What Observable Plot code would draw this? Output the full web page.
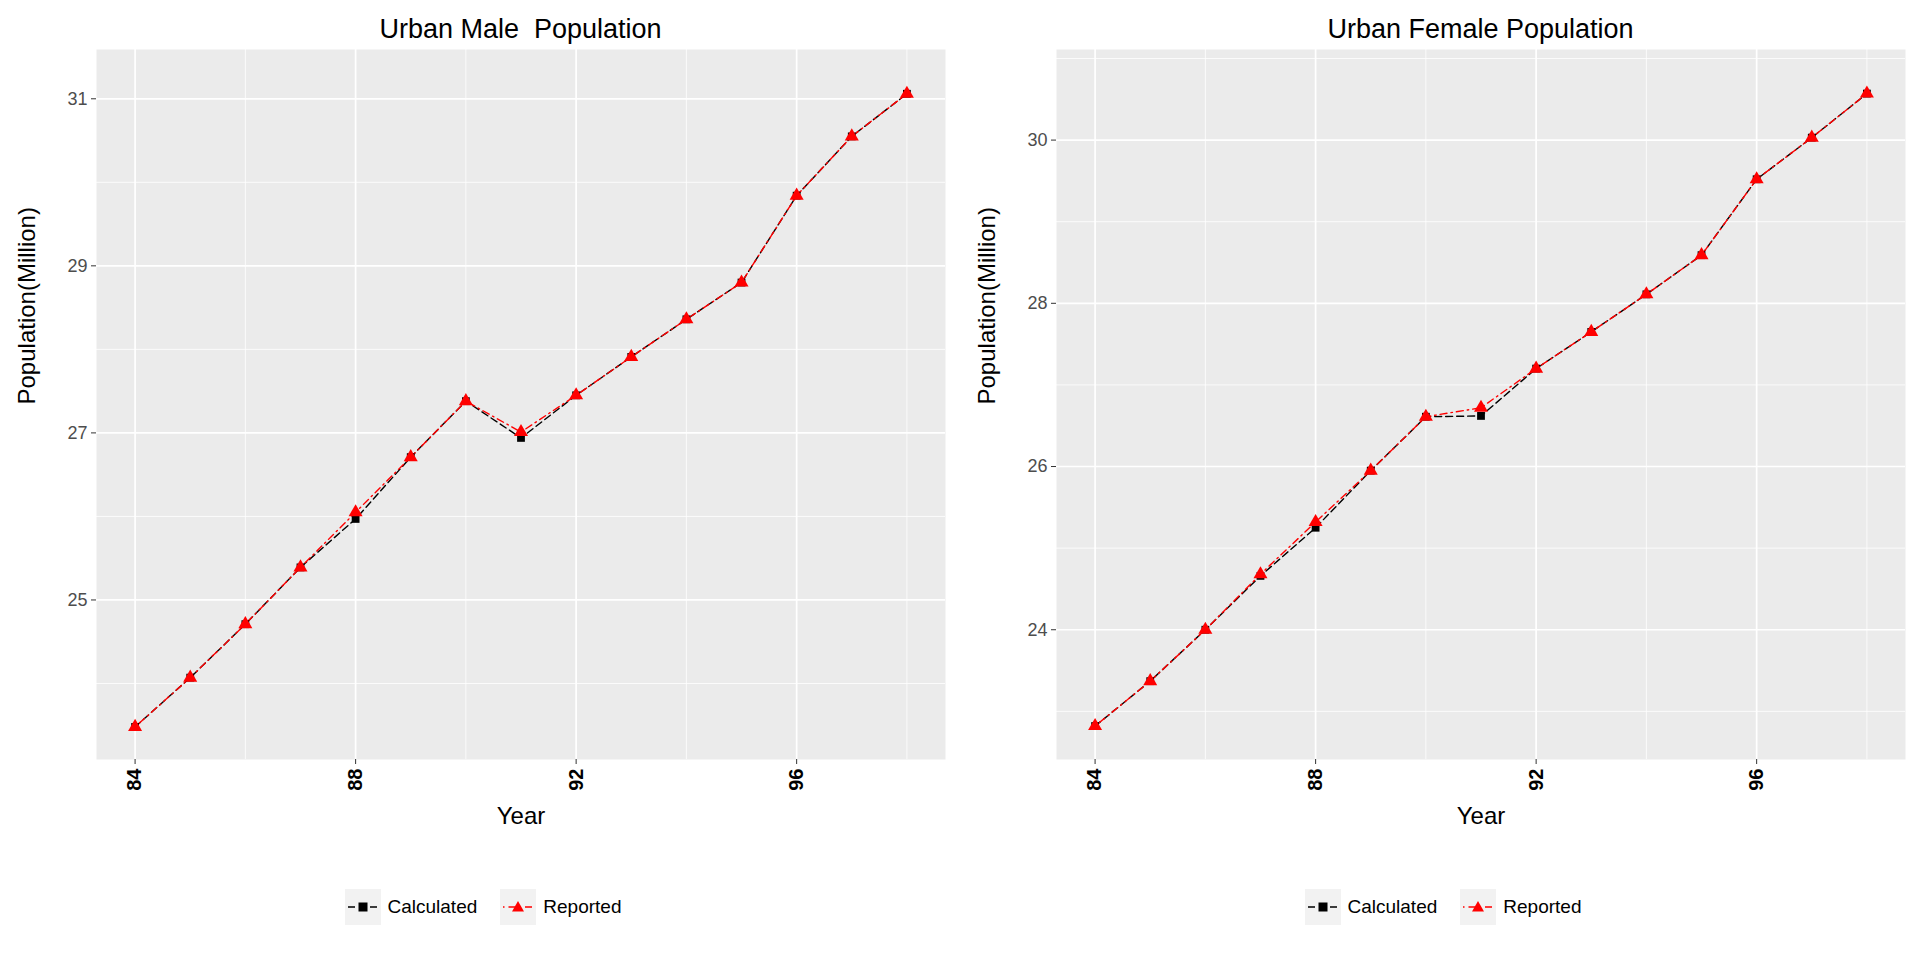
<!DOCTYPE html>
<html><head><meta charset="utf-8">
<script src="https://cdn.jsdelivr.net/npm/d3@7"></script>
<script src="https://cdn.jsdelivr.net/npm/@observablehq/plot@0.6"></script>
<style>
body{margin:0;background:#fff;font-family:"Liberation Sans",Arial,sans-serif;width:1920px;height:960px;position:relative;overflow:hidden}
.title{position:absolute;top:14px;font-size:27px;color:#000;text-align:center}
.panel{position:absolute;top:0}
.legend{position:absolute;top:889px;font-size:19px;display:flex;align-items:center;gap:7px}
</style></head><body>
<div id="root"></div>
<script>
const years = [84,85,86,87,88,89,90,91,92,93,94,95,96,97,98];
const maleCalc = [23.48,24.07,24.71,25.39,25.97,26.71,27.38,26.94,27.45,27.91,28.36,28.80,29.84,30.55,31.06];
const maleRep  = [23.48,24.07,24.71,25.39,26.05,26.71,27.38,27.01,27.45,27.91,28.36,28.80,29.84,30.55,31.06];
const femCalc  = [22.82,23.37,24.00,24.66,25.25,25.95,26.61,26.62,27.20,27.65,28.11,28.59,29.52,30.03,30.57];
const femRep   = [22.82,23.37,24.00,24.68,25.32,25.95,26.61,26.72,27.20,27.65,28.11,28.59,29.52,30.03,30.57];
const xMajor = [84,88,92,96], xMinor = [86,90,94,98];

function panel(calc, rep, domain, yMajor, yMinor, left, title){
  const width=960, ml=96, mr=15;
  const dc = years.map((y,i)=>({x:y,v:calc[i]}));
  const dr = years.map((y,i)=>({x:y,v:rep[i]}));
  const p = Plot.plot({
    width, height:845, marginLeft:ml, marginRight:mr, marginTop:49, marginBottom:86,
    style:{background:"transparent",fontFamily:"Liberation Sans, Arial, sans-serif"},
    x:{domain:[83.3,98.7], ticks:xMajor, label:null},
    y:{domain, ticks:yMajor, label:null},
    marks:[
      Plot.frame({fill:"#EBEBEB"}),
      Plot.gridX(xMinor,{stroke:"#fff",strokeOpacity:1,strokeWidth:0.8}),
      Plot.gridY(yMinor,{stroke:"#fff",strokeOpacity:1,strokeWidth:0.8}),
      Plot.gridX(xMajor,{stroke:"#fff",strokeOpacity:1,strokeWidth:1.7}),
      Plot.gridY(yMajor,{stroke:"#fff",strokeOpacity:1,strokeWidth:1.7}),
      Plot.axisX({ticks:xMajor,tickRotate:-90,fontSize:20,fontWeight:"bold",fill:"#000",stroke:"#333",tickSize:5,tickPadding:4}),
      Plot.axisY({ticks:yMajor,fontSize:18,fill:"#4D4D4D",stroke:"#333",tickSize:5}),
      Plot.line(dc,{x:"x",y:"v",stroke:"#000",strokeWidth:1.4,strokeDasharray:"7,4"}),
      Plot.line(dr,{x:"x",y:"v",stroke:"#ff0000",strokeWidth:1.4,strokeDasharray:"1.5,4,7,4"}),
      Plot.dot(dc,{x:"x",y:"v",symbol:"square",fill:"#000",r:4.4}),
      Plot.dot(dr,{x:"x",y:"v",symbol:"triangle",fill:"#ff0000",r:5.2}),
      Plot.text(["Year"],{frameAnchor:"bottom",dy:64,fontSize:24,fill:"#000"}),
      Plot.text(["Population(Million)"],{frameAnchor:"left",rotate:-90,dx:-ml+27,fontSize:24,fill:"#000"})
    ]
  });
  const div=document.createElement("div");div.className="panel";div.style.left=left+"px";div.appendChild(p);
  document.getElementById("root").appendChild(div);
  const cx = left+ml+(width-ml-mr)/2;
  const t=document.createElement("div");t.className="title";t.textContent=title;t.style.left=(cx-350)+"px";t.style.width="700px";t.style.whiteSpace="pre";
  document.body.appendChild(t);
  const lg=document.createElement("div");lg.className="legend";lg.style.left=(cx-176)+"px";
  lg.innerHTML=`<svg width="36" height="36"><rect width="36" height="36" fill="#f2f2f2"/><line x1="3" y1="18" x2="33" y2="18" stroke="#000" stroke-width="1.4" stroke-dasharray="7,4"/><rect x="13.5" y="13.5" width="9" height="9" fill="#000"/></svg><span style="margin-right:16px">Calculated</span><svg width="36" height="36"><rect width="36" height="36" fill="#f2f2f2"/><line x1="3" y1="18" x2="33" y2="18" stroke="#f00" stroke-width="1.4" stroke-dasharray="1.5,4,7,4"/><path d="M18,12 L24,22.5 L12,22.5Z" fill="#f00"/></svg><span>Reported</span>`;
  document.body.appendChild(lg);
}
panel(maleCalc, maleRep, [23.09,31.59], [25,27,29,31], [24,26,28,30], 0, "Urban Male  Population");
panel(femCalc, femRep, [22.41,31.11], [24,26,28,30], [23,25,27,29,31], 960, "Urban Female Population");
</script></body></html>
